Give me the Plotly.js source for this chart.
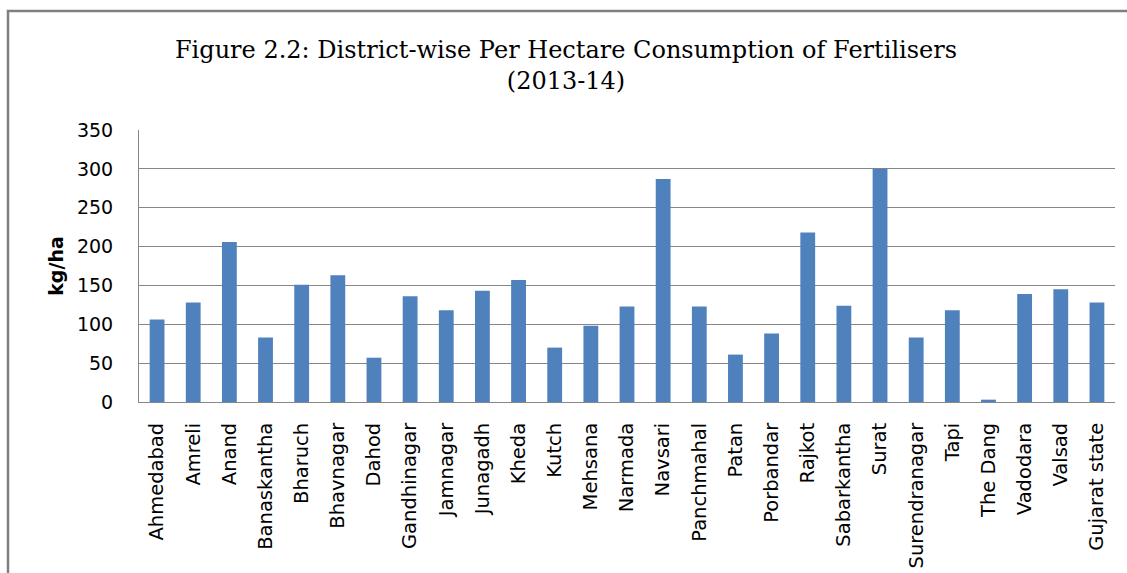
<!DOCTYPE html>
<html>
<head>
<meta charset="utf-8">
<script src="https://cdn.plot.ly/plotly-3.0.1.min.js"></script>
<style>
html,body{margin:0;padding:0;background:#fff;}
#chart{width:1127px;height:573px;}
</style>
</head>
<body>
<div id="chart"></div>
<script>
const districts = ["Ahmedabad","Amreli","Anand","Banaskantha","Bharuch","Bhavnagar","Dahod","Gandhinagar","Jamnagar","Junagadh","Kheda","Kutch","Mehsana","Narmada","Navsari","Panchmahal","Patan","Porbandar","Rajkot","Sabarkantha","Surat","Surendranagar","Tapi","The Dang","Vadodara","Valsad","Gujarat state"];
const consumption = [106, 128, 206, 83, 151, 163, 57, 136, 118, 143, 157, 70, 98, 123, 287, 123, 61, 88, 218, 124, 300, 83, 118, 3, 139, 145, 128];
const yTicks = [0, 50, 100, 150, 200, 250, 300, 350];

const L = 139, R = 1115, T = 130, B = 402, W = 1127, H = 573;
const px2x = p => (p - L) / (R - L);
const px2y = p => (B - p) / (B - T);

const trace = {
  type: 'bar',
  x: districts,
  y: consumption,
  marker: {color: '#4F81BD'},
  hoverinfo: 'x+y'
};

const layout = {
  width: W, height: H,
  margin: {l: L, r: W - R, t: T, b: H - B, pad: 0},
  paper_bgcolor: '#ffffff',
  plot_bgcolor: '#ffffff',
  bargap: 0.59,
  showlegend: false,
  title: {
    text: 'Figure 2.2: District-wise Per Hectare Consumption of Fertilisers<br>(2013-14)',
    font: {family: 'DejaVu Serif', size: 24, color: '#000000'},
    x: 566 / W, xanchor: 'center', xref: 'container',
    y: 1 - 58 / H, yanchor: 'top', yref: 'container'
  },
  xaxis: {
    type: 'category',
    tickangle: -90,
    tickfont: {family: 'DejaVu Sans', size: 19.5, color: '#000000'},
    showline: true, linecolor: '#868686', linewidth: 1,
    showgrid: false, ticks: '', ticklabelstandoff: 12,
    zeroline: false
  },
  yaxis: {
    range: [0, 350],
    tickvals: yTicks,
    ticktext: yTicks.map(String),
    tickfont: {family: 'DejaVu Sans', size: 19, color: '#000000'},
    showline: true, linecolor: '#868686', linewidth: 1,
    showgrid: true, gridcolor: '#868686', gridwidth: 1,
    zeroline: false, ticks: '', ticklabelstandoff: 21,
    title: {text: 'kg/ha', font: {family: 'DejaVu Sans', size: 19, color: '#000000', weight: 'bold'}, standoff: 8}
  },
  shapes: [{
    type: 'rect', xref: 'paper', yref: 'paper', layer: 'below',
    x0: px2x(8), x1: px2x(1140), y0: px2y(590), y1: px2y(11),
    line: {color: '#7f7f7f', width: 2.5}, fillcolor: 'rgba(0,0,0,0)'
  }]
};

Plotly.newPlot('chart', [trace], layout, {displayModeBar: false, staticPlot: true});
</script>
</body>
</html>
